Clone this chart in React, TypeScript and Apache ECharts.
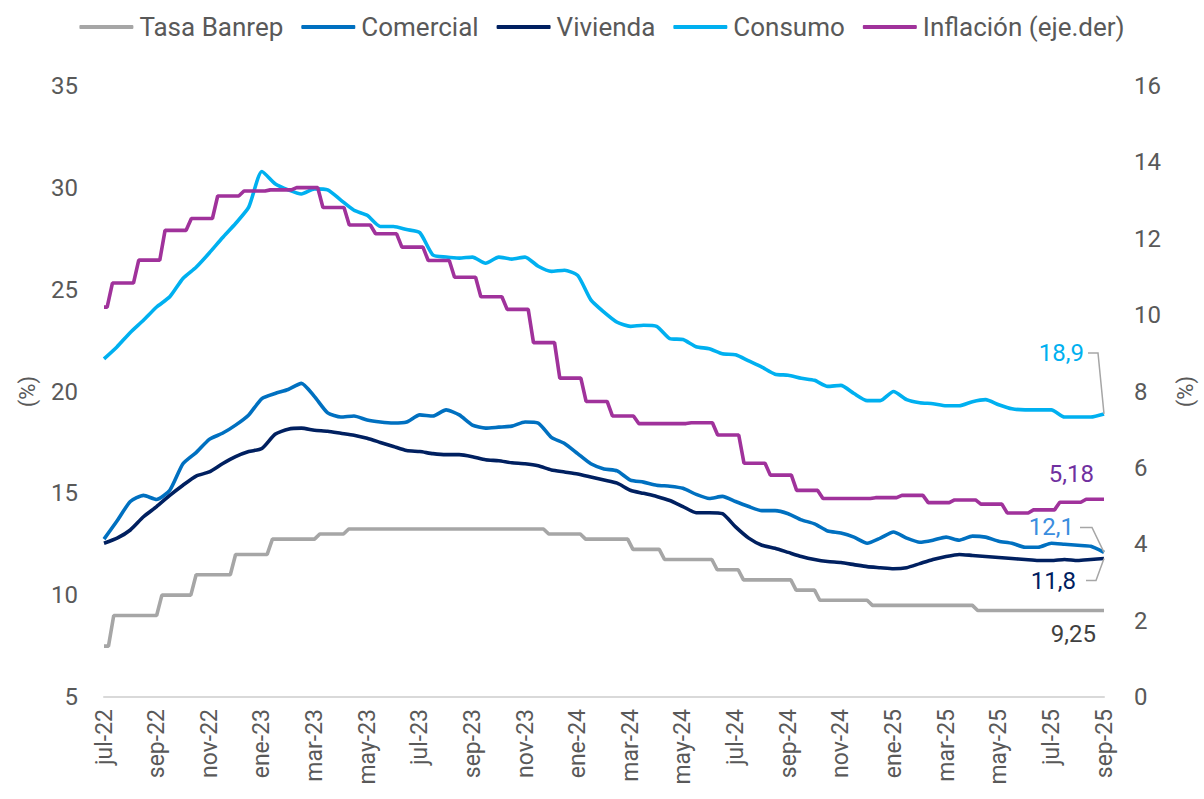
import React, { useEffect, useRef } from "react";
import * as echarts from "echarts";

// x positions are in months since jul-22 (0 = jul-22, 38 = sep-25)
const xLabels = ["jul-22","sep-22","nov-22","ene-23","mar-23","may-23","jul-23","sep-23","nov-23","ene-24","mar-24","may-24","jul-24","sep-24","nov-24","ene-25","mar-25","may-25","jul-25","sep-25"];

// semi-monthly readings (every 0.5 month from jul-22 to sep-25)
const consumo = [21.6,22.2,22.9,23.5,24.15,24.65,25.55,26.1,26.8,27.55,28.25,29.05,30.8,30.2,29.9,29.7,29.95,29.9,29.4,28.9,28.65,28.1,28.1,27.95,27.8,26.7,26.6,26.55,26.6,26.3,26.6,26.5,26.6,26.15,25.9,25.95,25.7,24.5,23.9,23.4,23.2,23.25,23.2,22.6,22.55,22.2,22.1,21.85,21.8,21.5,21.2,20.85,20.8,20.65,20.55,20.25,20.3,19.9,19.55,19.55,20.0,19.6,19.45,19.4,19.3,19.3,19.5,19.6,19.35,19.15,19.1,19.1,19.1,18.75,18.75,18.75,18.9];
const comercial = [12.75,13.65,14.6,14.9,14.7,15.15,16.45,17.0,17.65,17.95,18.35,18.85,19.65,19.9,20.1,20.4,19.75,18.95,18.75,18.8,18.6,18.5,18.45,18.5,18.85,18.8,19.1,18.85,18.35,18.2,18.25,18.3,18.5,18.45,17.75,17.45,16.95,16.45,16.2,16.1,15.65,15.55,15.4,15.35,15.25,14.95,14.75,14.85,14.6,14.35,14.15,14.15,14.0,13.7,13.5,13.15,13.05,12.85,12.55,12.8,13.1,12.8,12.6,12.7,12.85,12.7,12.9,12.85,12.65,12.55,12.35,12.35,12.55,12.5,12.45,12.4,12.1];
const vivienda = [12.55,12.8,13.2,13.85,14.35,14.9,15.4,15.85,16.05,16.45,16.8,17.05,17.2,17.9,18.15,18.2,18.1,18.05,17.95,17.85,17.7,17.5,17.3,17.1,17.05,16.95,16.9,16.9,16.8,16.65,16.6,16.5,16.45,16.35,16.15,16.05,15.95,15.8,15.65,15.5,15.15,15.0,14.85,14.65,14.35,14.05,14.05,14.0,13.35,12.8,12.45,12.3,12.1,11.9,11.75,11.65,11.6,11.5,11.4,11.35,11.3,11.35,11.55,11.75,11.9,12.0,11.95,11.9,11.85,11.8,11.75,11.7,11.7,11.75,11.7,11.75,11.8];

// Tasa Banrep: starting rate and changes (month position of change, new rate)
const banrepStart = 7.5;
const banrepChangeAt = [0.27,2.1,3.4,4.9,6.3,8.1,9.2,16.8,18.2,20.0,21.2,23.2,24.2,26.2,27.1,29.1,33.1];
const banrepRate = [9.0,10.0,11.0,12.0,12.75,13.0,13.25,13.0,12.75,12.25,11.75,11.25,10.75,10.25,9.75,9.5,9.25];

// Inflación anual, monthly jul-22 .. sep-25
const inflacion = [10.21,10.84,11.44,12.22,12.53,13.12,13.25,13.28,13.34,12.82,12.36,12.13,11.78,11.43,10.99,10.48,10.15,9.28,8.35,7.74,7.36,7.16,7.16,7.18,6.86,6.12,5.81,5.41,5.20,5.20,5.22,5.28,5.09,5.16,5.05,4.82,4.90,5.10,5.18];

const endLabels = { consumo: "18,9", comercial: "12,1", vivienda: "11,8", inflacion: "5,18", banrep: "9,25" };

const C = {
  banrep: "#A6A6A6",
  comercial: "#0070C0",
  vivienda: "#002060",
  consumo: "#00B0F0",
  inflacion: "#A0329B",
  text: "#595959",
};

const FONT = "Roboto, 'Noto Sans', sans-serif";

function semi(vals: number[]) {
  return vals.map((v, i) => [i / 2, v]);
}

function stepped(start: number, at: number[], vals: number[], end: number, w: number) {
  const out: number[][] = [[0, start]];
  let prev = start;
  at.forEach((c, i) => {
    out.push([c - w, prev]);
    out.push([c + w, vals[i]]);
    prev = vals[i];
  });
  out.push([end, prev]);
  return out;
}

export default function App() {
  const ref = useRef<HTMLDivElement>(null);
  useEffect(() => {
    if (!ref.current) return;
    const chart = echarts.init(ref.current, null, { renderer: "svg" });
    const inflAt = inflacion.slice(1).map((_, i) => i + 1 - 0.78);
    const inflData = stepped(inflacion[0], inflAt, inflacion.slice(1), 38, 0.1);
    const banData = stepped(banrepStart, banrepChangeAt, banrepRate, 38, 0.1);
    const lw = 3.6;
    const mk = (name: string, data: number[][], color: string, yIdx = 0, smooth: number | boolean = 0.2) => ({
      name,
      type: "line",
      data,
      yAxisIndex: yIdx,
      showSymbol: false,
      symbol: "none",
      smooth,
      lineStyle: { color, width: lw },
      itemStyle: { color },
      z: 2,
    });
    chart.setOption({
      animation: false,
      textStyle: { fontFamily: FONT },
      legend: {
        top: 9,
        left: "center",
        icon: "roundRect",
        itemWidth: 54,
        itemHeight: 4,
        itemGap: 18,
        textStyle: { fontSize: 26, color: C.text, fontFamily: FONT, padding: [0, 0, 0, 1] },
        data: ["Tasa Banrep", "Comercial", "Vivienda", "Consumo", "Inflación (eje.der)"],
      },
      grid: { left: 104, right: 94, top: 86, bottom: 102 },
      xAxis: {
        type: "value",
        min: 0,
        max: 38,
        interval: 2,
        axisLine: { show: true, lineStyle: { color: "#D9D9D9", width: 2 } },
        axisTick: { show: false },
        splitLine: { show: false },
        axisLabel: {
          rotate: 90,
          fontSize: 23,
          color: C.text,
          margin: 12,
          fontFamily: FONT,
          formatter: (v: number) => xLabels[Math.round(v / 2)] ?? "",
        },
      },
      yAxis: [
        {
          type: "value",
          min: 5,
          max: 35,
          interval: 5,
          name: "(%)",
          nameLocation: "middle",
          nameRotate: 90,
          nameGap: 66,
          nameTextStyle: { fontSize: 22, color: C.text, fontFamily: FONT },
          axisLine: { show: false },
          axisTick: { show: false },
          splitLine: { show: false },
          axisLabel: { fontSize: 24, color: C.text, margin: 26, fontFamily: FONT },
        },
        {
          type: "value",
          min: 0,
          max: 16,
          interval: 2,
          position: "right",
          name: "(%)",
          nameLocation: "middle",
          nameRotate: 90,
          nameGap: 70,
          nameTextStyle: { fontSize: 22, color: C.text, fontFamily: FONT },
          axisLine: { show: false },
          axisTick: { show: false },
          splitLine: { show: false },
          axisLabel: { fontSize: 24, color: C.text, margin: 30, fontFamily: FONT },
        },
      ],
      series: [
        mk("Tasa Banrep", banData, C.banrep, 0, false),
        mk("Comercial", semi(comercial), C.comercial),
        mk("Vivienda", semi(vivienda), C.vivienda),
        mk("Consumo", semi(consumo), C.consumo),
        mk("Inflación (eje.der)", inflData, C.inflacion, 1, false),
      ],
    });

    const px = (x: number, y: number, yIdx = 0) =>
      chart.convertToPixel({ xAxisIndex: 0, yAxisIndex: yIdx }, [x, y]) as number[];
    const pCon = px(38, consumo[consumo.length - 1]);
    const pCom = px(38, comercial[comercial.length - 1]);
    const pViv = px(38, vivienda[vivienda.length - 1]);
    const pInf = px(38, inflacion[inflacion.length - 1], 1);
    const pBan = px(38, banrepRate[banrepRate.length - 1]);
    const txt = (t: string, x: number, y: number, fill: string) => ({
      type: "text",
      style: { text: t, x, y, fill, font: `24px ${FONT}`, align: "right", verticalAlign: "middle" },
      z: 10,
    });
    const lead = (pts: number[][]) => ({
      type: "polyline",
      shape: { points: pts },
      style: { stroke: "#A6A6A6", lineWidth: 1.5, fill: null },
      z: 9,
    });
    chart.setOption({
      graphic: [
        txt(endLabels.consumo, pCon[0] - 20, pCon[1] - 61, C.consumo),
        lead([[pCon[0] - 16, pCon[1] - 61], [pCon[0] - 6, pCon[1] - 61], [pCon[0], pCon[1]]]),
        txt(endLabels.comercial, pCom[0] - 30, pCom[1] - 25, "#3A8DDE"),
        lead([[pCom[0] - 24, pCom[1] - 25], [pCom[0] - 12, pCom[1] - 25], [pCom[0], pCom[1]]]),
        txt(endLabels.vivienda, pViv[0] - 28, pViv[1] + 22, C.vivienda),
        lead([[pViv[0] - 18, pViv[1] + 22], [pViv[0] - 8, pViv[1] + 22], [pViv[0], pViv[1]]]),
        txt(endLabels.inflacion, pInf[0] - 10, pInf[1] - 25, "#7030A0"),
        txt(endLabels.banrep, pBan[0] - 8, pBan[1] + 24, "#404040"),
      ],
    });
    return () => chart.dispose();
  }, []);
  return (
    <div
      ref={ref}
      style={{ position: "fixed", left: 0, top: 0, width: 1204, height: 799, background: "#fff" }}
    />
  );
}
